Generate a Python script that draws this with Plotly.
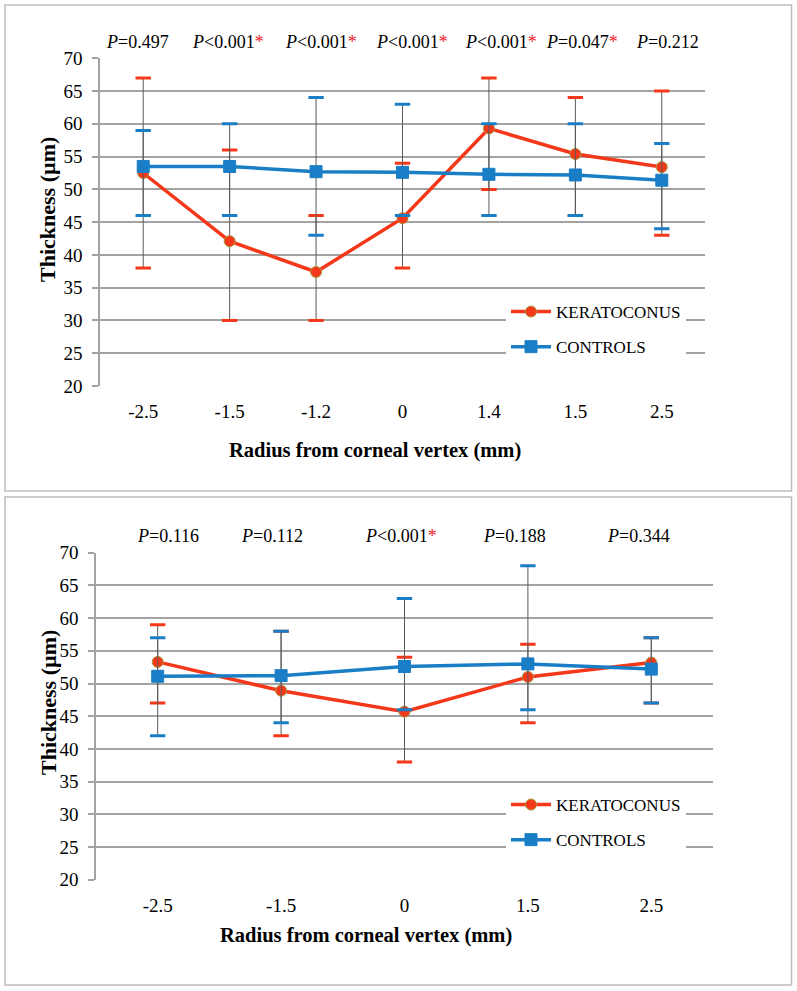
import plotly.graph_objects as go

# ---------------- data ----------------
top_cats = ["-2.5", "-1.5", "-1.2", "0", "1.4", "1.5", "2.5"]
top_kera_mean = [52.5, 42.1, 37.4, 45.6, 59.3, 55.4, 53.4]
top_kera_upper = [67, 56, 46, 54, 67, 64, 65]
top_kera_lower = [38, 30, 30, 38, 50, 46, 43]
top_ctrl_mean = [53.5, 53.5, 52.7, 52.6, 52.3, 52.2, 51.4]
top_ctrl_upper = [59, 60, 64, 63, 60, 60, 57]
top_ctrl_lower = [46, 46, 43, 46, 46, 46, 44]
top_pvals = ["=0.497", "<0.001*", "<0.001*", "<0.001*", "<0.001*", "=0.047*", "=0.212"]

bot_cats = ["-2.5", "-1.5", "0", "1.5", "2.5"]
bot_kera_mean = [53.3, 48.9, 45.7, 51.0, 53.2]
bot_kera_upper = [59, 58, 54, 56, 57]
bot_kera_lower = [47, 42, 38, 44, 47]
bot_ctrl_mean = [51.1, 51.2, 52.6, 53.0, 52.2]
bot_ctrl_upper = [57, 58, 63, 68, 57]
bot_ctrl_lower = [42, 44, 46, 46, 47]
bot_pvals = ["=0.116", "=0.112", "<0.001*", "=0.188", "=0.344"]

y_ticks = [20, 25, 30, 35, 40, 45, 50, 55, 60, 65, 70]

# ---------------- style ----------------
W, H = 797, 991
RED = "#F5381A"
RED_EDGE = "#A8963C"
BLUE = "#1A7EC6"
STEM = "#5A5A5A"
GRID = "#A3A3A3"
SERIF = "Liberation Serif"


def px(x):
    return x / W


def py(y):
    return 1 - y / H


fig = go.Figure()


def add_series(cats, mean, upper, lower, color, name, xa, ya, legend, symbol, msize, edge):
    plus = [u - m for u, m in zip(upper, mean)]
    minus = [m - l for m, l in zip(mean, lower)]
    # thin grey error-bar stems
    fig.add_trace(go.Scatter(
        x=cats, y=mean, mode="markers", xaxis=xa, yaxis=ya,
        marker=dict(size=1, color="rgba(0,0,0,0)"),
        error_y=dict(type="data", symmetric=False, array=plus, arrayminus=minus,
                     color=STEM, thickness=1, width=0),
        showlegend=False, hoverinfo="skip"))
    # coloured error-bar caps
    fig.add_trace(go.Scatter(
        x=cats + cats, y=upper + lower, mode="markers", xaxis=xa, yaxis=ya,
        marker=dict(symbol="line-ew", size=11, line=dict(color=color, width=3)),
        showlegend=False, hoverinfo="skip"))
    # main line with markers
    fig.add_trace(go.Scatter(
        x=cats, y=mean, mode="lines+markers", name=name, xaxis=xa, yaxis=ya,
        legend=legend, legendgroup=name + legend,
        line=dict(color=color, width=3.5),
        marker=dict(symbol=symbol, size=msize, color=color,
                    line=dict(color=edge, width=1))))


add_series(top_cats, top_kera_mean, top_kera_upper, top_kera_lower, RED, "KERATOCONUS",
           "x", "y", "legend", "circle", 11, RED_EDGE)
add_series(top_cats, top_ctrl_mean, top_ctrl_upper, top_ctrl_lower, BLUE, "CONTROLS",
           "x", "y", "legend", "square", 12, BLUE)
add_series(bot_cats, bot_kera_mean, bot_kera_upper, bot_kera_lower, RED, "KERATOCONUS",
           "x2", "y2", "legend2", "circle", 11, RED_EDGE)
add_series(bot_cats, bot_ctrl_mean, bot_ctrl_upper, bot_ctrl_lower, BLUE, "CONTROLS",
           "x2", "y2", "legend2", "square", 12, BLUE)


def xaxis_style(domain, cats, anchor):
    return dict(domain=domain, anchor=anchor, type="category",
                categoryorder="array", categoryarray=cats,
                range=[-0.5, len(cats) - 0.5],
                showgrid=False, zeroline=False, showline=False, ticks="",
                tickfont=dict(family=SERIF, size=19, color="#000"),
                ticklabelstandoff=12, fixedrange=True, automargin=False)


def yaxis_style(domain, anchor):
    return dict(domain=domain, anchor=anchor, range=[20, 70],
                tickvals=y_ticks, showgrid=True, gridcolor=GRID, gridwidth=1.5,
                zeroline=False, showline=True, linecolor=GRID, linewidth=1.5,
                ticks="outside", ticklen=6, tickcolor=GRID, tickwidth=1.5,
                tickfont=dict(family=SERIF, size=19, color="#000"),
                ticklabelstandoff=6, fixedrange=True, automargin=False)


annotations = []
top_offsets = [-6, -2, 5, 9, 12, 7, 6]
bot_offsets = [10, -9, -4, -13, -13]


def ptext(p):
    body = p.replace("<", "&lt;")
    star = ""
    if body.endswith("*"):
        body = body[:-1]
        star = "<span style='color:#E8202A'>*</span>"
    return "<i>P</i>" + body + star


for i, (p, off) in enumerate(zip(top_pvals, top_offsets)):
    annotations.append(dict(x=i, xref="x", y=py(42), yref="paper", text=ptext(p),
                            showarrow=False, xshift=off, xanchor="center", yanchor="middle",
                            font=dict(family=SERIF, size=18, color="#000")))
for i, (p, off) in enumerate(zip(bot_pvals, bot_offsets)):
    annotations.append(dict(x=i, xref="x2", y=py(536), yref="paper", text=ptext(p),
                            showarrow=False, xshift=off, xanchor="center", yanchor="middle",
                            font=dict(family=SERIF, size=18, color="#000")))

xt_font = dict(family=SERIF, size=20.5, color="#000")
yt_font = dict(family=SERIF, size=22, color="#000")
annotations += [
    dict(x=px(375), y=py(450), xref="paper", yref="paper", showarrow=False,
         text="<b>Radius from corneal vertex (mm)</b>", font=xt_font,
         xanchor="center", yanchor="middle"),
    dict(x=px(366), y=py(935), xref="paper", yref="paper", showarrow=False,
         text="<b>Radius from corneal vertex (mm)</b>", font=xt_font,
         xanchor="center", yanchor="middle"),
    dict(x=px(48), y=py(210), xref="paper", yref="paper", showarrow=False, textangle=-90,
         text="<b>Thickness (µm)</b>", font=yt_font, xanchor="center", yanchor="middle"),
    dict(x=px(48), y=py(703), xref="paper", yref="paper", showarrow=False, textangle=-90,
         text="<b>Thickness (µm)</b>", font=yt_font, xanchor="center", yanchor="middle"),
]

shapes = [
    dict(type="rect", xref="paper", yref="paper", x0=px(5), x1=px(791.5), y0=py(491), y1=py(5),
         line=dict(color="#BDBDBD", width=1.5)),
    dict(type="rect", xref="paper", yref="paper", x0=px(5), x1=px(791.5), y0=py(985), y1=py(497),
         line=dict(color="#BDBDBD", width=1.5)),
]

legend_common = dict(bgcolor="#FFFFFF", borderwidth=0, traceorder="grouped",
                     tracegroupgap=10, itemwidth=40,
                     font=dict(family=SERIF, size=17, color="#000"),
                     xanchor="left", yanchor="top", itemclick=False, itemdoubleclick=False)

fig.update_layout(
    width=W, height=H, margin=dict(l=0, r=0, t=0, b=0, pad=0, autoexpand=False),
    paper_bgcolor="#FFFFFF", plot_bgcolor="#FFFFFF",
    xaxis=xaxis_style([px(100), px(705)], top_cats, "y"),
    yaxis=yaxis_style([py(386), py(58.3)], "x"),
    xaxis2=xaxis_style([px(96), px(713)], bot_cats, "y2"),
    yaxis2=yaxis_style([py(879.7), py(552.7)], "x2"),
    legend=dict(x=px(506), y=py(294), **legend_common),
    legend2=dict(x=px(506), y=py(787), **legend_common),
    annotations=annotations, shapes=shapes, showlegend=True,
)

fig.write_html(
    "out.html",
    config={"displayModeBar": False},
    post_script=("document.body.style.margin='0';"
                 "document.body.style.overflow='hidden';"
                 "document.documentElement.style.overflow='hidden';"),
)
